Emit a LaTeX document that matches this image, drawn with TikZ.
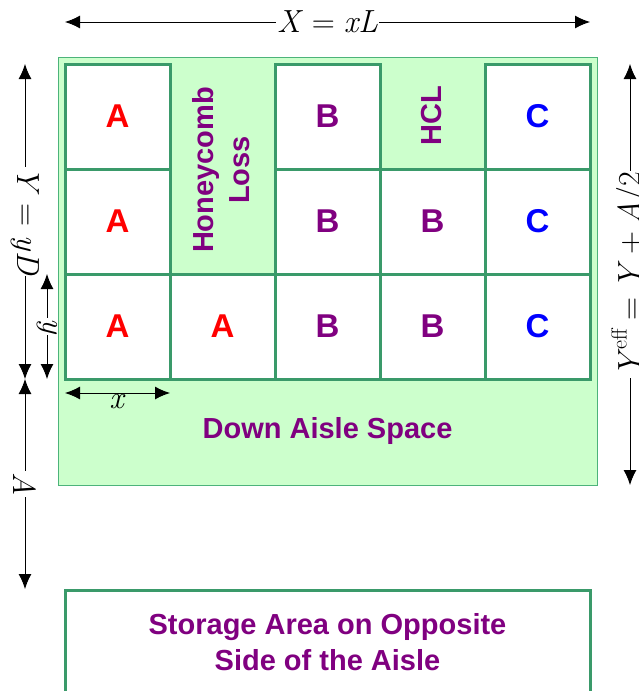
\documentclass[tikz,border=0pt]{standalone}
\usepackage{fontspec}
\setsansfont{Liberation Sans}
\usetikzlibrary{arrows.meta}
\definecolor{gridgreen}{HTML}{3A9A6A}
\definecolor{lightfill}{HTML}{CCFFCC}
\definecolor{outergreen}{HTML}{4CB37A}
\definecolor{purp}{HTML}{800080}
\newcommand{\eqsp}{\hspace{0.28em}}
\tikzset{
  cell/.style={draw=gridgreen, line width=3pt, fill=white, minimum width=105pt, minimum height=105pt, inner sep=0pt, font=\sffamily\bfseries\fontsize{33}{36}\selectfont},
  lbl/.style={text=purp, font=\sffamily\bfseries\fontsize{29}{36}\selectfont, align=center, inner sep=0pt},
  dim/.style={{Latex[length=15pt,width=13pt]}-{Latex[length=15pt,width=13pt]}, line width=1pt},
  dimlbl/.style={fill=white, inner sep=1pt, font=\rmfamily\fontsize{32}{34}\selectfont},
}
\begin{document}
\begin{tikzpicture}[x=1pt,y=-1pt]
\useasboundingbox (0,0) rectangle (638,691);
% outer aisle area
\draw[outergreen, fill=lightfill, line width=1pt] (58,57) rectangle (597,485);
% cells
\node[cell, text=red] (a11) at (117.5,116.5) {A};
\node[cell, text=purp] (b13) at (327.5,116.5) {B};
\node[cell, text=blue] (c15) at (537.5,116.5) {C};
\node[cell, text=red] (a21) at (117.5,221.5) {A};
\node[cell, text=purp] (b23) at (327.5,221.5) {B};
\node[cell, text=purp] (b24) at (432.5,221.5) {B};
\node[cell, text=blue] (c25) at (537.5,221.5) {C};
\node[cell, text=red] (a31) at (117.5,326.5) {A};
\node[cell, text=red] (a32) at (222.5,326.5) {A};
\node[cell, text=purp] (b33) at (327.5,326.5) {B};
\node[cell, text=purp] (b34) at (432.5,326.5) {B};
\node[cell, text=blue] (c35) at (537.5,326.5) {C};
% gap labels
\node[lbl, rotate=90] (hc) at (221,170) {Honeycomb\\Loss};
\node[lbl, rotate=90] (hcl) at (432,116) {HCL};
\node[lbl] (das) at (327.5,431) {Down Aisle Space};
% storage area
\draw[gridgreen, line width=3pt, fill=white] (65,590) rectangle (590,705);
\node[lbl] (sa) at (327.5,642) {Storage Area on Opposite\\Side of the Aisle};
% dimension coordinates
\coordinate (tl) at (65,22);
\coordinate (tr) at (590,22);
\coordinate (l1) at (25,64);
\coordinate (l2) at (25,379);
\coordinate (l3) at (25,589);
\coordinate (s1) at (47,274);
\coordinate (s2) at (47,379);
\coordinate (x1) at (65,393);
\coordinate (x2) at (170,393);
\coordinate (r1) at (630,64);
\coordinate (r2) at (630,485);
% dimension arrows
\draw[dim] (tl) -- node[dimlbl] (xl) {\textit{X}\eqsp=\eqsp\textit{xL}} (tr);
\draw[dim] (l1) -- node[dimlbl, rotate=-90] (yl) {\textit{Y}\eqsp=\eqsp\textit{yD}} (l2);
\draw[dim] (l2) -- node[dimlbl, rotate=-90] (al) {\textit{A}} (l3);
\draw[dim] (s1) -- node[dimlbl, rotate=-90, inner sep=0pt] (sl) {\textit{y}} (s2);
\draw[dim] (x1) -- node[below=0pt, font=\rmfamily\fontsize{32}{34}\selectfont, inner sep=1pt] (xlb) {\textit{x}} (x2);
\draw[dim] (r2) -- node[dimlbl, rotate=90] (rl) {\textit{Y}\raisebox{0.45em}{\fontsize{22}{24}\selectfont eff}\eqsp=\eqsp\textit{Y}\hspace{0.2em}+\hspace{0.2em}\textit{A}/2} (r1);
\end{tikzpicture}
\end{document}
